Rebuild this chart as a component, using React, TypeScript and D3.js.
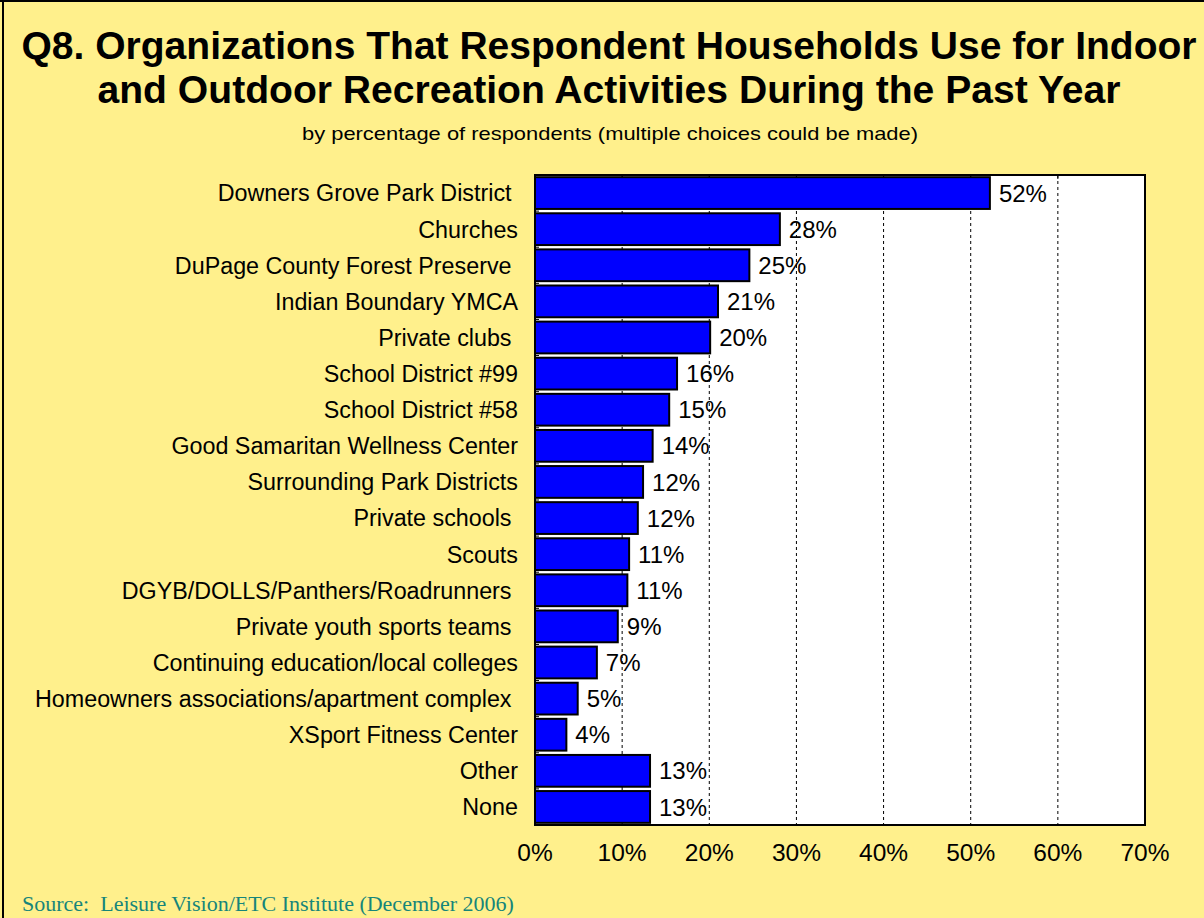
import React from "react";
import * as d3 from "d3";

const categories = [
  "Downers Grove Park District ",
  "Churches",
  "DuPage County Forest Preserve ",
  "Indian Boundary YMCA",
  "Private clubs ",
  "School District #99",
  "School District #58",
  "Good Samaritan Wellness Center",
  "Surrounding Park Districts",
  "Private schools ",
  "Scouts",
  "DGYB/DOLLS/Panthers/Roadrunners ",
  "Private youth sports teams ",
  "Continuing education/local colleges",
  "Homeowners associations/apartment complex ",
  "XSport Fitness Center",
  "Other",
  "None",
];
const values = [52.2, 28.1, 24.6, 21.0, 20.1, 16.3, 15.4, 13.5, 12.4, 11.8, 10.8, 10.6, 9.5, 7.1, 4.9, 3.6, 13.2, 13.2];
const valueLabels = ["52%", "28%", "25%", "21%", "20%", "16%", "15%", "14%", "12%", "12%", "11%", "11%", "9%", "7%", "5%", "4%", "13%", "13%"];
const xTicks = [0, 10, 20, 30, 40, 50, 60, 70];

const titleLines = [
  "Q8. Organizations That Respondent Households Use for Indoor",
  "and Outdoor Recreation Activities During the Past Year",
];
const subtitle = "by percentage of respondents (multiple choices could be made)";
const source = "Source:  Leisure Vision/ETC Institute (December 2006)";

const W = 1204;
const H = 918;
const plot = { left: 535, right: 1145, top: 175, bottom: 825 };

export default function App() {
  const x = d3.scaleLinear().domain([0, 70]).range([plot.left, plot.right]);
  const y = d3
    .scaleBand<string>()
    .domain(categories)
    .range([plot.top, plot.bottom])
    .paddingInner(0.12)
    .paddingOuter(0.06);
  const step = (plot.bottom - plot.top) / categories.length;
  const font = "'Liberation Sans', Arial, sans-serif";

  return (
    <svg
      width={W}
      height={H}
      style={{ position: "absolute", left: 0, top: 0, display: "block" }}
    >
      <rect x={0} y={0} width={W} height={H} fill="#FFF08C" />
      <line x1={0} x2={W} y1={1} y2={1} stroke="#000" strokeWidth={2} />
      <line x1={3} x2={3} y1={0} y2={H} stroke="#000" strokeWidth={2} />

      <text
        x={609}
        y={59}
        textAnchor="middle"
        fontFamily={font}
        fontWeight="bold"
        fontSize={38}
        textLength={1175}
        lengthAdjust="spacingAndGlyphs"
      >
        {titleLines[0]}
      </text>
      <text
        x={609}
        y={103}
        textAnchor="middle"
        fontFamily={font}
        fontWeight="bold"
        fontSize={38}
        textLength={1023}
        lengthAdjust="spacingAndGlyphs"
      >
        {titleLines[1]}
      </text>
      <text
        x={610}
        y={140}
        textAnchor="middle"
        fontFamily={font}
        fontSize={19}
        textLength={616}
        lengthAdjust="spacingAndGlyphs"
      >
        {subtitle}
      </text>

      <rect
        x={plot.left}
        y={plot.top}
        width={plot.right - plot.left}
        height={plot.bottom - plot.top}
        fill="#fff"
      />
      {xTicks.slice(1, -1).map((t) => (
        <line
          key={"g" + t}
          x1={x(t)}
          x2={x(t)}
          y1={plot.top}
          y2={plot.bottom}
          stroke="#000"
          strokeWidth={1}
          strokeDasharray="3,3"
        />
      ))}
      {xTicks.slice(1, -1).map((t) => (
        <line
          key={"tt" + t}
          x1={x(t)}
          x2={x(t)}
          y1={plot.top}
          y2={plot.top + 4}
          stroke="#000"
          strokeWidth={1}
        />
      ))}
      {categories.map((c, i) => (
        <line
          key={"yt" + i}
          x1={plot.left}
          x2={plot.left + 4}
          y1={plot.top + step * i}
          y2={plot.top + step * i}
          stroke="#000"
          strokeWidth={1}
        />
      ))}

      {categories.map((c, i) => (
        <rect
          key={"b" + i}
          x={x(0)}
          y={y(c)}
          width={x(values[i]) - x(0)}
          height={y.bandwidth()}
          fill="#0000FF"
          stroke="#000"
          strokeWidth={2}
        />
      ))}

      <rect
        x={plot.left}
        y={plot.top}
        width={plot.right - plot.left}
        height={plot.bottom - plot.top}
        fill="none"
        stroke="#000"
        strokeWidth={2}
      />

      {categories.map((c, i) => (
        <text
          key={"l" + i}
          x={518}
          y={(y(c) ?? 0) + y.bandwidth() / 2}
          dy="0.36em"
          textAnchor="end"
          fontFamily={font}
          fontSize={23.3}
          xmlSpace="preserve"
          style={{ whiteSpace: "pre" }}
        >
          {c}
        </text>
      ))}
      {categories.map((c, i) => (
        <text
          key={"v" + i}
          x={x(values[i]) + 9}
          y={(y(c) ?? 0) + y.bandwidth() / 2}
          dy="0.36em"
          fontFamily={font}
          fontSize={24}
        >
          {valueLabels[i]}
        </text>
      ))}

      {xTicks.map((t) => (
        <text
          key={"xl" + t}
          x={x(t)}
          y={852}
          dy="0.36em"
          textAnchor="middle"
          fontFamily={font}
          fontSize={24.5}
        >
          {t + "%"}
        </text>
      ))}

      <text
        x={22}
        y={911}
        fontFamily="'Liberation Serif', 'Times New Roman', serif"
        fontSize={22}
        fill="#16857A"
        xmlSpace="preserve"
        style={{ whiteSpace: "pre" }}
      >
        {source}
      </text>
    </svg>
  );
}
